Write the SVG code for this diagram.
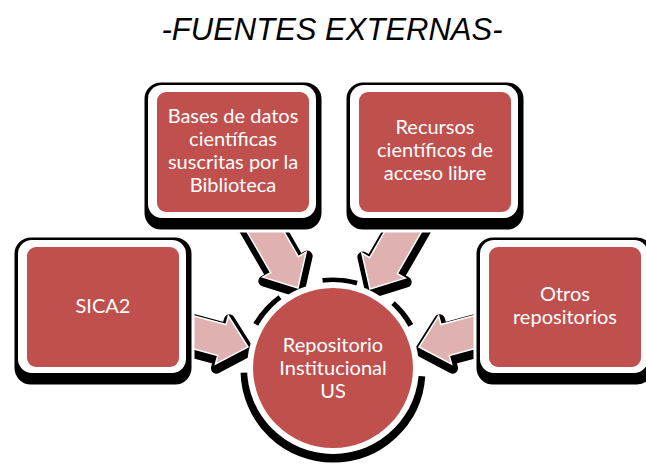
<svg xmlns="http://www.w3.org/2000/svg" width="646" height="465" viewBox="0 0 646 465">
<style>
.title{font-family:"Liberation Sans",Arial,sans-serif;font-style:italic;font-size:31px;fill:#000;text-anchor:middle}
.lbl{font-family:Lato,"Open Sans",sans-serif;font-size:20px;fill:#fff;text-anchor:middle}
.shadow{fill:#000}
.halo{fill:#fff}
.card{fill:#c0504d}
.ash{fill:#000;stroke:#000;stroke-width:11;stroke-linejoin:round}
.arw{fill:#dfb1b0;stroke:#fff;stroke-width:1.5;stroke-linejoin:miter}
</style>
<rect width="646" height="465" fill="#fff"/>
<text class="title" x="332" y="40">-FUENTES EXTERNAS-</text>

<g id="connectors">
  <g id="arrow-bases">
    <polygon class="ash" transform="translate(299,292) rotate(60)" points="0,0 -27,-25 -27,-16 -101,-16 -101,16 -27,16 -27,25"/>
    <polygon class="arw" transform="translate(298,288) rotate(60)" points="0,0 -27,-25 -27,-16 -101,-16 -101,16 -27,16 -27,25"/>
  </g>
  <g id="arrow-recursos">
    <polygon class="ash" transform="translate(371,293) rotate(120)" points="0,0 -27,-25 -27,-16 -101,-16 -101,16 -27,16 -27,25"/>
    <polygon class="arw" transform="translate(370,289) rotate(120)" points="0,0 -27,-25 -27,-16 -101,-16 -101,16 -27,16 -27,25"/>
  </g>
  <g id="arrow-sica2">
    <polygon class="ash" transform="translate(249,351) rotate(15)" points="0,0 -27,-25 -27,-16 -70,-16 -70,16 -27,16 -27,25"/>
    <polygon class="arw" transform="translate(248,347) rotate(15)" points="0,0 -27,-25 -27,-16 -70,-16 -70,16 -27,16 -27,25"/>
  </g>
  <g id="arrow-otros">
    <polygon class="ash" transform="translate(420,351) rotate(165)" points="0,0 -27,-25 -27,-16 -72,-16 -72,16 -27,16 -27,25"/>
    <polygon class="arw" transform="translate(419,347) rotate(165)" points="0,0 -27,-25 -27,-16 -72,-16 -72,16 -27,16 -27,25"/>
  </g>
</g>

<g id="node-repositorio">
  <circle cx="333" cy="370" r="88" fill="none" stroke="#000" stroke-width="9" stroke-dasharray="0 6.2 267.1 49.7 35.7 45.0 34.2 40.4 28.0 52.8"/>
  <circle class="halo" cx="333" cy="368" r="86"/>
  <circle class="card" cx="333" cy="368" r="80"/>
  <text class="lbl" x="333" y="352">Repositorio</text>
  <text class="lbl" x="333" y="375">Institucional</text>
  <text class="lbl" x="333" y="398">US</text>
</g>

<g id="node-bases">
  <rect class="shadow" x="143" y="81" width="180" height="150" rx="18" stroke="#fff" stroke-width="3"/>
  <rect class="halo" x="148" y="85" width="168" height="133" rx="14"/>
  <rect class="card" x="157" y="92" width="152" height="120" rx="9"/>
  <text class="lbl" x="233" y="123">Bases de datos</text>
  <text class="lbl" x="233" y="146">científicas</text>
  <text class="lbl" x="233" y="169">suscritas por la</text>
  <text class="lbl" x="233" y="192">Biblioteca</text>
</g>

<g id="node-recursos">
  <rect class="shadow" x="345" y="81" width="180" height="150" rx="18" stroke="#fff" stroke-width="3"/>
  <rect class="halo" x="350" y="85" width="168" height="133" rx="14"/>
  <rect class="card" x="359" y="92" width="152" height="120" rx="9"/>
  <text class="lbl" x="435" y="134">Recursos</text>
  <text class="lbl" x="435" y="157">científicos de</text>
  <text class="lbl" x="435" y="180">acceso libre</text>
</g>

<g id="node-sica2">
  <rect class="shadow" x="13" y="236" width="180" height="150" rx="18" stroke="#fff" stroke-width="3"/>
  <rect class="halo" x="18" y="240" width="168" height="133" rx="14"/>
  <rect class="card" x="27" y="247" width="152" height="120" rx="9"/>
  <text class="lbl" x="103" y="313">SICA2</text>
</g>

<g id="node-otros">
  <rect class="shadow" x="475" y="236" width="180" height="150" rx="18" stroke="#fff" stroke-width="3"/>
  <rect class="halo" x="480" y="240" width="168" height="133" rx="14"/>
  <rect class="card" x="489" y="247" width="152" height="120" rx="9"/>
  <text class="lbl" x="565" y="301">Otros</text>
  <text class="lbl" x="565" y="324">repositorios</text>
</g>
</svg>
